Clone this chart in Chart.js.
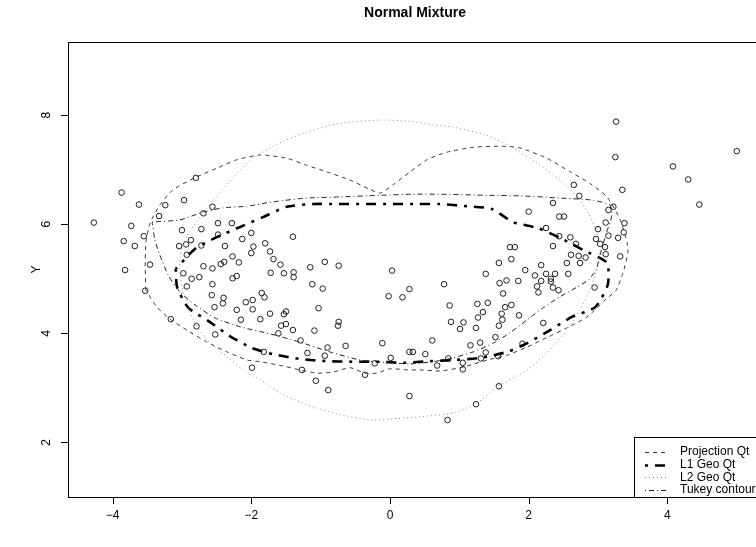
<!DOCTYPE html>
<html>
<head>
<meta charset="utf-8">
<script src="https://cdn.jsdelivr.net/npm/chart.js@4.4.0/dist/chart.umd.min.js"></script>
<style>
  html, body { margin: 0; padding: 0; background: #fff; overflow: hidden; }
  #wrap { width: 770px; height: 547px; }
</style>
</head>
<body>
<div id="wrap"><canvas id="chart" width="770" height="547"></canvas></div>
<script>
// labels
const chartTitle = 'Normal Mixture';
const yTitle = 'Y';
const xTicks = [-4, -2, 0, 2, 4];
const yTicks = [2, 4, 6, 8];
const legendLabels = ['Projection Qt', 'L1 Geo Qt', 'L2 Geo Qt', 'Tukey contour'];

// observations
const pointsX = [
  -2.80, -3.87, -3.62, -2.97, -3.24, -3.33, -2.56, -2.69, -4.27, -3.73,
  -3.00, -2.72, -2.48, -2.28, -3.55, -3.84, -3.68, -3.04, -2.94, -2.87,
  -2.72, -2.48, -2.00, -2.13, -2.38, -1.97, -2.93, -2.00, -2.27, -3.46,
  -3.82, -2.69, -2.56, -2.44, -2.39, -2.18, -2.98, -2.86, -2.75, -2.27,
  -2.21, -2.56, -2.93, -3.53, -2.57, -2.40, -1.98, -1.85, -1.40, -1.80,
  -1.73, -1.68, -1.58, -1.72, -1.53, -1.39, -1.39, -1.15, -0.94, -0.74,
  -1.12, -0.97, -1.81, 0.03, -0.02, 0.18, 0.28, 3.26, 3.25, 2.65,
  2.73, 2.35, 2.00, 2.44, 2.51, 3.15, 3.22, 3.11, 2.25, 3.00,
  3.15, 3.29, 2.44, 2.60, 2.97, 3.03, 3.10, 2.68, 2.35, 1.73,
  1.80, 3.11, 2.61, 2.72, 2.82, 1.75, 2.55, 2.74, 1.57, 2.18,
  1.95, 1.38, 2.09, 2.25, 2.38, 2.57, 2.32, 2.32, 2.18, 1.68,
  1.58, 1.85, 0.78, 2.12, 2.35, 2.43, 2.14, 1.63, 2.95, 5.00,
  4.08, 4.30, 4.46, 3.35, 3.38, 3.37, 3.32, -2.41, -2.53, -2.08,
  -1.98, -2.21, -2.15, -1.87, -3.16, -2.79, -2.52, -1.99, -1.73, -1.53,
  -1.50, -1.03, -1.57, -1.50, -1.61, -1.40, -1.09, -0.74, -0.75, -1.29,
  -0.90, -0.64, -1.82, -1.19, -0.94, -1.27, -1.07, -0.89, -0.36, -0.22,
  -0.11, 0.01, 0.28, 0.33, 0.51, 0.61, 0.68, 0.28, 0.86, 1.26,
  1.41, 1.66, 1.75, 1.34, 1.27, 1.61, 1.62, 1.86, 0.88, 1.06,
  1.01, 1.24, 1.57, 2.21, 1.16, 1.30, 1.52, 1.91, 0.84, 1.05,
  1.05, 1.31, 1.38, 1.56, 1.57, 1.24, 0.83
];
const pointsY = [
  6.85, 6.58, 6.36, 6.44, 6.35, 6.15, 6.32, 6.20, 6.03, 5.97,
  5.89, 5.91, 6.02, 6.02, 5.78, 5.69, 5.60, 5.60, 5.63, 5.71,
  5.61, 5.81, 5.84, 5.73, 5.60, 5.59, 5.44, 5.47, 5.41, 5.26,
  5.16, 5.23, 5.19, 5.27, 5.31, 5.30, 5.10, 5.00, 5.03, 5.01,
  5.05, 4.90, 4.86, 4.78, 4.70, 4.65, 4.61, 4.74, 5.77, 5.65,
  5.50, 5.36, 5.26, 5.11, 5.10, 5.12, 5.03, 5.21, 5.31, 5.24,
  4.90, 4.82, 4.66, 5.15, 4.68, 4.66, 4.81, 7.88, 7.23, 6.72,
  6.52, 6.39, 6.23, 6.14, 6.14, 6.26, 6.32, 6.03, 5.93, 5.91,
  5.79, 5.75, 5.78, 5.76, 5.73, 5.64, 5.58, 5.64, 5.60, 5.58,
  5.58, 5.45, 5.44, 5.42, 5.39, 5.36, 5.29, 5.29, 5.29, 5.25,
  5.16, 5.09, 5.06, 5.09, 5.09, 5.09, 5.00, 4.95, 4.96, 4.97,
  4.92, 4.96, 4.90, 4.86, 4.84, 4.79, 4.75, 4.73, 4.84, 7.34,
  7.06, 6.82, 6.36, 6.63, 6.02, 5.85, 5.41, 4.55, 4.48, 4.57,
  4.44, 4.43, 4.25, 4.26, 4.26, 4.13, 3.98, 3.37, 4.36, 4.35,
  4.40, 4.46, 4.14, 4.17, 4.00, 4.06, 4.05, 4.21, 4.14, 3.87,
  3.74, 3.77, 3.66, 3.64, 3.59, 3.33, 3.13, 2.96, 3.24, 3.45,
  3.82, 3.55, 3.66, 3.66, 3.62, 3.87, 3.41, 2.85, 4.51, 4.54,
  4.56, 4.48, 4.52, 4.39, 4.29, 4.36, 4.25, 4.33, 4.21, 4.20,
  4.08, 4.10, 4.14, 4.19, 3.78, 3.83, 3.93, 3.81, 3.54, 3.46,
  3.34, 3.54, 3.65, 3.58, 3.03, 2.70, 2.41
];

// contours (closed curves)
const projX = [-3.52, -3.53, -3.52, -3.46, -3.32, -3.13, -2.80, -2.49, -2.21, -1.87, -1.49, -1.20, -0.91, -0.58, -0.29, -0.14, 0.04, 0.29, 0.53, 0.82, 1.20, 1.59, 1.87, 2.26, 2.60, 2.88, 3.13, 3.32, 3.42, 3.43, 3.36, 3.26, 3.10, 2.84, 2.55, 2.26, 1.98, 1.69, 1.40, 1.05, 0.72, 0.43, 0.25, 0, -0.19, -0.36, -0.58, -0.82, -1.05, -1.30, -1.54, -1.87, -2.06, -2.35, -2.64, -2.93, -3.17, -3.36, -3.52];
const projY = [4.79, 5.22, 5.66, 6.02, 6.35, 6.63, 6.86, 7.03, 7.18, 7.27, 7.21, 7.08, 6.96, 6.81, 6.64, 6.57, 6.72, 6.96, 7.18, 7.32, 7.41, 7.43, 7.40, 7.21, 6.96, 6.75, 6.50, 6.08, 5.66, 5.47, 5.11, 4.79, 4.61, 4.30, 4.10, 3.92, 3.75, 3.60, 3.51, 3.38, 3.31, 3.33, 3.33, 3.35, 3.27, 3.27, 3.37, 3.29, 3.27, 3.33, 3.40, 3.48, 3.51, 3.66, 3.84, 4.06, 4.26, 4.48, 4.79];

const l1X = [-3.09, -3.07, -2.91, -2.60, -2.31, -1.99, -1.69, -1.30, -0.91, -0.55, -0.19, 0.19, 0.58, 0.91, 1.30, 1.69, 1.98, 2.31, 2.62, 2.96, 3.14, 3.13, 2.78, 2.45, 2.13, 1.77, 1.47, 1.11, 0.72, 0.39, 0, -0.39, -0.76, -1.11, -1.49, -1.83, -2.16, -2.52, -2.81, -3.09];
const l1Y = [5.18, 4.85, 4.47, 4.21, 3.95, 3.73, 3.62, 3.53, 3.49, 3.48, 3.48, 3.46, 3.49, 3.51, 3.55, 3.66, 3.82, 4.06, 4.30, 4.48, 4.89, 5.29, 5.53, 5.75, 5.93, 6.04, 6.28, 6.33, 6.37, 6.37, 6.37, 6.37, 6.37, 6.37, 6.32, 6.13, 5.95, 5.75, 5.55, 5.18];

const l2X = [-2.98, -3.03, -3.03, -2.93, -2.74, -2.55, -2.26, -1.98, -1.59, -1.20, -0.72, -0.14, 0.25, 0.62, 0.91, 1.40, 1.77, 2.12, 2.45, 2.70, 2.86, 2.98, 3.03, 2.98, 2.88, 2.74, 2.55, 2.26, 1.98, 1.57, 1.24, 0.91, 0.43, 0, -0.25, -0.72, -1.20, -1.59, -1.87, -2.06, -2.35, -2.64, -2.84, -2.98];
const l2Y = [4.74, 5.11, 5.40, 5.77, 6.13, 6.44, 6.86, 7.21, 7.49, 7.69, 7.85, 7.91, 7.89, 7.82, 7.78, 7.63, 7.40, 7.12, 6.81, 6.50, 6.21, 5.84, 5.53, 5.16, 4.79, 4.43, 4.06, 3.64, 3.33, 3.04, 2.71, 2.54, 2.47, 2.43, 2.41, 2.51, 2.69, 2.91, 3.15, 3.27, 3.57, 3.88, 4.25, 4.74];

const tukeyX = [-3.43, -3.03, -2.70, -2.41, -2.06, -1.69, -1.20, -0.72, -0.14, 0.33, 0.72, 1.40, 1.87, 2.45, 2.93, 3.17, 3.20, 3.11, 3.03, 2.97, 2.86, 2.70, 2.45, 2.21, 1.98, 1.73, 1.49, 1.20, 0.91, 0.62, 0.29, 0, -0.43, -0.87, -1.30, -1.73, -2.16, -2.52, -2.81, -3.03, -3.20, -3.32, -3.39, -3.43];
const tukeyY = [6.04, 6.08, 6.22, 6.30, 6.33, 6.41, 6.48, 6.50, 6.53, 6.55, 6.55, 6.53, 6.52, 6.48, 6.44, 6.35, 6.17, 5.80, 5.44, 5.16, 4.98, 4.85, 4.67, 4.47, 4.25, 4.01, 3.82, 3.66, 3.55, 3.48, 3.44, 3.46, 3.51, 3.66, 3.84, 3.99, 4.12, 4.28, 4.52, 4.76, 5.07, 5.44, 5.71, 6.04];

// line styles, same order as legendLabels
const lineStyles = [
  { color: '#3a3a3a', width: 1, dash: [4, 4] },
  { color: '#000000', width: 2.6, dash: [3, 7, 10, 7] },
  { color: '#8a8a8a', width: 1, dash: [1, 3] },
  { color: '#222222', width: 1, dash: [1, 3, 5, 3] }
];

const FONT = '"Liberation Sans", Arial, Helvetica, sans-serif';

function toXY(xs, ys) {
  return xs.map((x, i) => ({ x: x, y: ys[i] }));
}

const curves = [[projX, projY], [l1X, l1Y], [l2X, l2Y], [tukeyX, tukeyY]];

const datasets = [{
  label: 'points',
  data: toXY(pointsX, pointsY),
  showLine: false,
  pointStyle: 'circle',
  pointRadius: 2.8,
  borderWidth: 1,
  borderColor: '#1e1e1e',
  backgroundColor: 'rgba(0,0,0,0)',
  order: 5
}];

curves.forEach((c, i) => {
  const s = lineStyles[i];
  datasets.push({
    label: legendLabels[i],
    data: toXY(c[0], c[1]),
    showLine: true,
    fill: false,
    tension: 0.2,
    pointRadius: 0,
    borderColor: s.color,
    borderWidth: s.width,
    borderDash: s.dash,
    order: 4 - i
  });
});

// frame, rotated y labels, title and legend, the R way
const framePlugin = {
  id: 'frame',
  afterDraw(chart) {
    const ctx = chart.ctx;
    const a = chart.chartArea;
    const xs = chart.scales.x;
    const ys = chart.scales.y;
    ctx.save();
    ctx.setLineDash([]);
    ctx.strokeStyle = '#000';
    ctx.lineWidth = 1;
    ctx.strokeRect(Math.round(a.left) + 0.5, Math.round(a.top) + 0.5,
      Math.round(a.right - a.left), Math.round(a.bottom - a.top));

    // tick marks
    ctx.beginPath();
    xTicks.forEach(v => {
      const p = Math.round(xs.getPixelForValue(v)) + 0.5;
      ctx.moveTo(p, a.bottom);
      ctx.lineTo(p, a.bottom + 7);
    });
    yTicks.forEach(v => {
      const p = Math.round(ys.getPixelForValue(v)) + 0.5;
      ctx.moveTo(a.left, p);
      ctx.lineTo(a.left - 7, p);
    });
    ctx.stroke();

    ctx.fillStyle = '#000';
    ctx.font = '12px ' + FONT;
    ctx.textAlign = 'center';
    ctx.textBaseline = 'middle';
    xTicks.forEach(v => {
      ctx.fillText(String(v).replace('-', '\u2212'), xs.getPixelForValue(v), a.bottom + 19);
    });
    yTicks.forEach(v => {
      ctx.save();
      ctx.translate(a.left - 21, ys.getPixelForValue(v));
      ctx.rotate(-Math.PI / 2);
      ctx.fillText(String(v), 0, 0);
      ctx.restore();
    });

    // axis title
    ctx.save();
    ctx.translate(a.left - 31, (a.top + a.bottom) / 2);
    ctx.rotate(-Math.PI / 2);
    ctx.fillText(yTitle, 0, 0);
    ctx.restore();

    // main title
    ctx.font = 'bold 14px ' + FONT;
    ctx.fillText(chartTitle, (a.left + a.right) / 2, 13);

    // legend, bottom right inside the box
    const bx = 634, by = a.bottom - 60;
    ctx.fillStyle = '#fff';
    ctx.fillRect(bx, by, a.right - bx, a.bottom - by);
    ctx.strokeStyle = '#000';
    ctx.strokeRect(bx + 0.5, by + 0.5, a.right - bx, a.bottom - by);
    ctx.font = '12px ' + FONT;
    ctx.textAlign = 'left';
    legendLabels.forEach((lab, i) => {
      const s = lineStyles[i];
      const ry = by + 15 + i * 12.6;
      ctx.beginPath();
      ctx.strokeStyle = s.color;
      ctx.lineWidth = s.width;
      ctx.setLineDash(s.dash);
      ctx.moveTo(bx + 11, Math.round(ry) + 0.5);
      ctx.lineTo(bx + 35, Math.round(ry) + 0.5);
      ctx.stroke();
      ctx.fillStyle = '#000';
      ctx.fillText(lab, bx + 46, ry);
    });
    ctx.restore();
  }
};

new Chart(document.getElementById('chart'), {
  type: 'scatter',
  data: { datasets: datasets },
  options: {
    responsive: false,
    animation: false,
    events: [],
    layout: { padding: { left: 0, top: 42, right: 8, bottom: 0 }, autoPadding: false },
    plugins: {
      legend: { display: false },
      title: { display: false },
      tooltip: { enabled: false }
    },
    scales: {
      x: {
        type: 'linear',
        min: -4.643,
        max: 5.364,
        afterBuildTicks: s => { s.ticks = xTicks.map(v => ({ value: v })); },
        afterFit: s => { s.height = 50; },
        grid: { display: false },
        border: { display: false },
        ticks: { display: false }
      },
      y: {
        type: 'linear',
        min: 1.0,
        max: 9.34,
        afterBuildTicks: s => { s.ticks = yTicks.map(v => ({ value: v })); },
        afterFit: s => { s.width = 68; },
        grid: { display: false },
        border: { display: false },
        ticks: { display: false }
      }
    }
  },
  plugins: [framePlugin]
});
</script>
</body>
</html>
